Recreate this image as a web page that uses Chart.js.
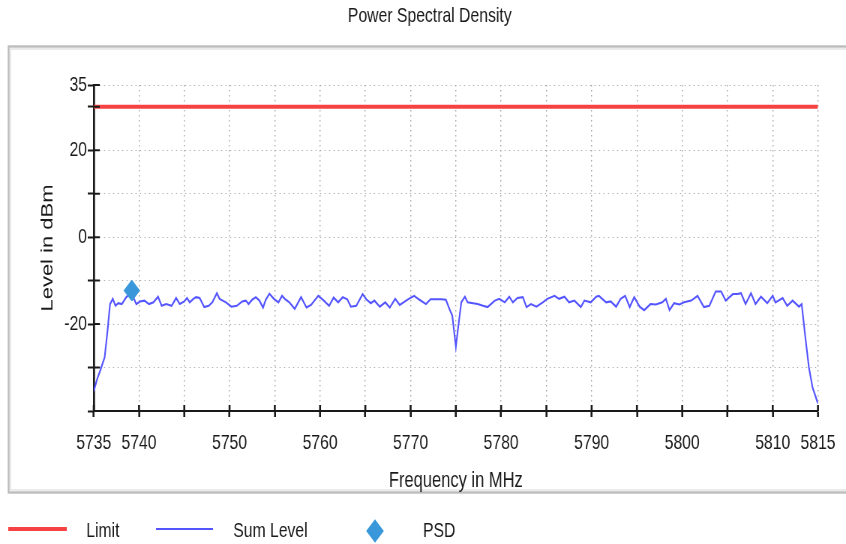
<!DOCTYPE html>
<html>
<head>
<meta charset="utf-8">
<script src="https://cdn.jsdelivr.net/npm/chart.js@4.4.1/dist/chart.umd.min.js"></script>
<style>
  html, body { margin: 0; padding: 0; background: #fff; overflow: hidden; }
  /* the chart is laid out wide and then narrowed, like the exported plot */
  #wrap { width: 1128px; height: 544px; transform: scaleX(0.75); transform-origin: 0 0; }
</style>
</head>
<body>
<div id="wrap"><canvas id="psdChart" width="1128" height="544"></canvas></div>
<script>
// x ticks every 5 MHz, only some of them labelled
const xTickValues = [5735, 5740, 5745, 5750, 5755, 5760, 5765, 5770, 5775, 5780, 5785, 5790, 5795, 5800, 5805, 5810, 5815];
const xTickLabels = [5735, 5740, 5750, 5760, 5770, 5780, 5790, 5800, 5810, 5815];
const yTickValues = [-40, -30, -20, -10, 0, 10, 20, 30, 35];
const yTickLabels = [35, 20, 0, -20];

// limit line (dBm)
const limitFreq = [5735, 5815];
const limitLevel = [30, 30];

// measured sum level trace
const sumFreq = [
  5735.0, 5735.4, 5735.7, 5736.2, 5736.5, 5736.8, 5737.1, 5737.4, 5737.7, 5738.1,
  5738.6, 5739.0, 5739.4, 5739.7, 5740.1, 5740.6, 5741.1, 5741.6, 5742.1, 5742.5,
  5743.0, 5743.6, 5744.1, 5744.5, 5745.0, 5745.3, 5745.6, 5746.0, 5746.3, 5746.7,
  5747.2, 5747.7, 5748.1, 5748.6, 5748.9, 5749.6, 5750.2, 5750.8, 5751.4, 5751.8,
  5752.1, 5752.5, 5752.9, 5753.3, 5753.7, 5754.0, 5754.4, 5754.9, 5755.4, 5755.8,
  5756.1, 5756.6, 5757.2, 5757.9, 5758.5, 5759.0, 5759.8, 5760.3, 5761.0, 5761.5,
  5762.0, 5762.5, 5763.0, 5763.4, 5764.0, 5764.7, 5765.1, 5765.6, 5766.0, 5766.6,
  5767.2, 5767.7, 5768.3, 5768.8, 5769.3, 5769.8, 5770.4, 5770.9, 5771.7, 5772.2,
  5772.8, 5773.4, 5773.9, 5774.3, 5774.6, 5775.0, 5775.3, 5775.6, 5776.0, 5776.3,
  5776.9, 5777.4, 5778.0, 5778.5, 5779.3, 5779.8, 5780.4, 5780.9, 5781.3, 5781.8,
  5782.4, 5782.8, 5783.3, 5783.9, 5784.6, 5785.1, 5785.9, 5786.4, 5787.0, 5787.5,
  5788.1, 5788.8, 5789.2, 5789.9, 5790.5, 5790.8, 5791.6, 5792.1, 5792.7, 5793.2,
  5793.7, 5794.2, 5794.7, 5795.3, 5795.8, 5796.5, 5797.1, 5797.8, 5798.2, 5798.6,
  5799.1, 5799.7, 5800.2, 5801.0, 5801.7, 5802.4, 5803.0, 5803.7, 5804.3, 5804.8,
  5805.6, 5806.1, 5806.5, 5807.0, 5807.6, 5808.1, 5808.7, 5809.4, 5810.0, 5810.3,
  5811.1, 5811.6, 5812.2, 5812.9, 5813.2, 5813.6, 5814.0, 5814.4, 5814.9, 5815.0
];
const sumLevel = [
  -35.4, -32.5, -30.8, -27.7, -22.0, -15.4, -14.2, -15.8, -15.2, -15.4,
  -13.8, -13.0, -14.0, -15.4, -14.8, -14.6, -15.4, -15.0, -13.7, -15.8,
  -15.4, -15.8, -14.0, -15.4, -14.8, -14.0, -15.0, -14.2, -13.8, -14.0,
  -16.1, -15.8, -15.0, -12.9, -14.2, -15.0, -16.0, -15.8, -14.8, -14.6,
  -15.4, -14.4, -13.8, -14.6, -16.2, -14.4, -13.0, -14.2, -15.0, -13.5,
  -14.2, -15.0, -16.5, -13.8, -16.2, -15.6, -13.5, -14.4, -15.8, -13.9,
  -15.0, -13.8, -14.3, -16.0, -15.8, -13.1, -14.3, -15.2, -14.6, -16.0,
  -15.0, -16.2, -14.2, -15.6, -14.9, -14.2, -13.5, -14.3, -15.4, -14.3,
  -14.3, -14.3, -14.4, -16.6, -18.0, -25.2, -20.0, -15.0, -13.7, -15.0,
  -15.2, -15.4, -15.8, -16.1, -14.6, -14.2, -15.0, -13.7, -15.0, -14.0,
  -13.8, -16.1, -15.4, -16.0, -15.0, -14.2, -13.5, -14.2, -13.7, -15.0,
  -14.6, -16.1, -14.6, -15.0, -13.7, -13.5, -15.0, -14.8, -16.0, -14.2,
  -13.5, -16.1, -13.8, -16.0, -16.8, -15.4, -15.5, -15.0, -14.2, -16.8,
  -15.2, -15.5, -15.0, -14.6, -13.5, -16.1, -15.8, -12.5, -12.5, -14.6,
  -13.1, -13.1, -12.9, -15.4, -12.9, -15.4, -13.7, -15.2, -13.5, -15.0,
  -14.0, -15.8, -14.6, -16.0, -15.4, -23.0, -30.0, -34.6, -37.7, -38.3
];

// PSD marker
const psdFreq = [5739.2];
const psdLevel = [-12.3];

const LIMIT_COLOR = 'rgb(246, 66, 66)';
const SUM_COLOR = 'rgb(85, 85, 255)';
const PSD_COLOR = 'rgb(58, 152, 218)';
const TEXT_COLOR = '#1a1a1a';
const FONT = 'Liberation Sans, Arial, sans-serif';

function toPoints(xs, ys) {
  return xs.map((x, i) => ({ x: x, y: ys[i] }));
}

// panel frame, title, legend and the inner half of every tick mark
const decorations = {
  id: 'decorations',
  beforeDraw(chart) {
    const ctx = chart.ctx;
    ctx.save();
    ctx.strokeStyle = '#bcbcbc';
    ctx.lineWidth = 2.4;
    ctx.strokeRect(11.5, 46.5, 1200, 446);
    ctx.strokeStyle = '#e4e4e4';
    ctx.lineWidth = 1.5;
    ctx.strokeRect(14, 49, 1200, 441);
    ctx.restore();
  },
  afterDraw(chart) {
    const ctx = chart.ctx;
    const xs = chart.scales.x, ys = chart.scales.y;
    ctx.save();
    ctx.strokeStyle = TEXT_COLOR;
    ctx.lineWidth = 2.6;
    ctx.beginPath();
    xs.ticks.forEach(t => {
      const px = xs.getPixelForValue(t.value);
      ctx.moveTo(px, xs.top);
      ctx.lineTo(px, xs.top - 6);
    });
    ctx.stroke();
    ctx.lineWidth = 2;
    ctx.beginPath();
    ys.ticks.forEach(t => {
      const py = ys.getPixelForValue(t.value);
      ctx.moveTo(ys.right, py);
      ctx.lineTo(ys.right + 8, py);
    });
    ctx.stroke();

    // title
    ctx.fillStyle = TEXT_COLOR;
    ctx.font = '21px ' + FONT;
    ctx.textAlign = 'center';
    ctx.textBaseline = 'middle';
    ctx.fillText('Power Spectral Density', 573, 16);

    // legend
    const ds = chart.data.datasets;
    const legendY = 529;
    ctx.font = '21px ' + FONT;
    ctx.textAlign = 'left';

    ctx.strokeStyle = ds[0].borderColor;
    ctx.lineWidth = ds[0].borderWidth;
    ctx.beginPath(); ctx.moveTo(11, legendY); ctx.lineTo(89, legendY); ctx.stroke();
    ctx.fillText(ds[0].label, 115, legendY + 2);

    ctx.strokeStyle = ds[1].borderColor;
    ctx.lineWidth = 1.8;
    ctx.beginPath(); ctx.moveTo(208, legendY); ctx.lineTo(284, legendY); ctx.stroke();
    ctx.fillText(ds[1].label, 311, legendY + 2);

    ctx.fillStyle = ds[2].backgroundColor;
    ctx.strokeStyle = ds[2].borderColor;
    Chart.helpers.drawPoint(ctx, { pointStyle: 'rectRot', radius: ds[2].pointRadius, borderWidth: 1 }, 500, legendY + 2);
    ctx.fillStyle = TEXT_COLOR;
    ctx.fillText(ds[2].label, 564, legendY + 2);
    ctx.restore();
  }
};

new Chart(document.getElementById('psdChart'), {
  type: 'line',
  data: {
    datasets: [
      {
        label: 'Limit',
        data: toPoints(limitFreq, limitLevel),
        borderColor: LIMIT_COLOR,
        borderWidth: 4,
        pointRadius: 0,
        order: 2
      },
      {
        label: 'Sum Level',
        data: toPoints(sumFreq, sumLevel),
        borderColor: SUM_COLOR,
        borderWidth: 2.1,
        pointRadius: 0,
        tension: 0,
        order: 1
      },
      {
        label: 'PSD',
        data: toPoints(psdFreq, psdLevel),
        showLine: false,
        pointStyle: 'rectRot',
        pointRadius: 10.5,
        backgroundColor: PSD_COLOR,
        borderColor: PSD_COLOR,
        borderWidth: 1,
        order: 0
      }
    ]
  },
  options: {
    responsive: false,
    animation: false,
    layout: { padding: { left: 0, right: 36, top: 85, bottom: 43 } },
    plugins: {
      legend: { display: false },
      title: { display: false },
      tooltip: { enabled: false }
    },
    scales: {
      x: {
        type: 'linear',
        min: 5735,
        max: 5815,
        afterBuildTicks: scale => { scale.ticks = xTickValues.map(v => ({ value: v })); },
        afterFit: scale => { scale.height = 90; },
        ticks: {
          autoSkip: false,
          maxRotation: 0,
          padding: 14,
          color: TEXT_COLOR,
          font: { family: FONT, size: 21 },
          callback: v => xTickLabels.includes(v) ? String(v) : ''
        },
        grid: {
          color: '#a8a8a8',
          lineWidth: 1.4,
          tickLength: 6,
          tickWidth: 2.6,
          tickColor: TEXT_COLOR
        },
        border: { display: true, color: TEXT_COLOR, width: 2, dash: [1.5, 3.5] },
        title: {
          display: true,
          text: 'Frequency in MHz',
          color: TEXT_COLOR,
          font: { family: FONT, size: 22 },
          padding: { top: 0, bottom: 7 }
        }
      },
      y: {
        type: 'linear',
        min: -40,
        max: 35,
        afterBuildTicks: scale => { scale.ticks = yTickValues.map(v => ({ value: v })); },
        afterFit: scale => { scale.width = 125; },
        ticks: {
          padding: 1,
          color: TEXT_COLOR,
          font: { family: FONT, size: 21 },
          callback: v => yTickLabels.includes(v) ? String(v) : ''
        },
        grid: {
          color: '#a8a8a8',
          lineWidth: 1,
          tickLength: 8,
          tickWidth: 2,
          tickColor: TEXT_COLOR
        },
        border: { display: true, color: TEXT_COLOR, width: 2.7, dash: [1.5, 4.5] },
        title: {
          display: true,
          text: 'Level in dBm',
          color: TEXT_COLOR,
          font: { family: FONT, size: 22 },
          padding: { top: 51, bottom: 0 }
        }
      }
    }
  },
  plugins: [decorations]
});
</script>
</body>
</html>
